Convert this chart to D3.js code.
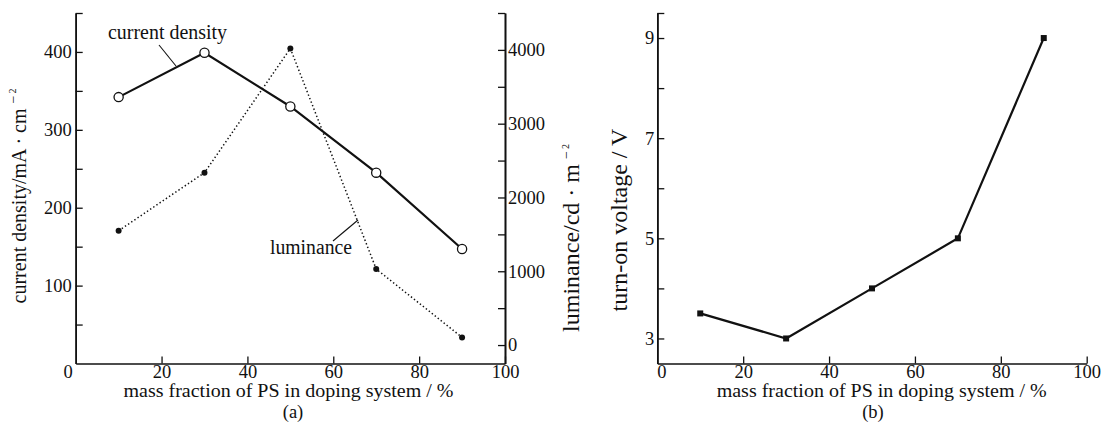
<!DOCTYPE html>
<html><head><meta charset="utf-8">
<script src="https://cdn.jsdelivr.net/npm/d3@7"></script>
<style>
body{margin:0;background:#fff;}
svg text{font-family:"Liberation Serif","Times New Roman",serif;fill:#111;}
</style></head>
<body><svg id="c" width="1101" height="438"></svg>
<script>
// ---- data ----
const massFraction = [10, 30, 50, 70, 90];
const currentDensity = [342, 399, 330, 245, 147];
const luminance = [1550, 2336, 4020, 1030, 104];
const turnOnVoltage = [3.5, 3.0, 4.0, 5.0, 9.0];
const xTicks = [0, 20, 40, 60, 80, 100];
const cdTicks = [100, 200, 300, 400];
const cdMinor = [50, 150, 250, 350, 450];
const lumTicks = [0, 1000, 2000, 3000, 4000];
const lumMinor = [500, 1500, 2500, 3500, 4500];
const voltTicks = [3, 5, 7, 9];
const voltMinor = [4, 6, 8, 9.5];

const svg = d3.select("#c");
const FS = 18.5;
const TK = 7;
const SERIF = '"Liberation Serif","Times New Roman",serif';
const fmt = d3.format("d");

// scales
const xA = d3.scaleLinear().domain([0, 100]).range([75.7, 505]);
const yCD = d3.scaleLinear().domain([0, 450]).range([363.5, 13]);
const yLum = d3.scaleLinear().domain([-250, 4500]).range([363.5, 13]);
const xB = d3.scaleLinear().domain([0, 100]).range([657.3, 1086.7]);
const yV = d3.scaleLinear().domain([2.5, 9.5]).range([363.5, 13]);

function styleAxis(g){
  g.attr("font-family", SERIF).attr("font-size", FS);
  g.selectAll("path.domain").attr("stroke","#111").attr("stroke-width",1.6);
  g.selectAll(".tick line").attr("stroke","#111").attr("stroke-width",1.3);
  g.selectAll("text").attr("fill","#111")
    .style("font-family", SERIF).style("font-size", FS+"px");
}

// rotated title centred on (x, yCenter); optional "−2" superscript
function rotTitle(g, x, yCenter, str, fs, sup){
  const grp = g.append("g");
  const t = grp.append("text").style("font-size", fs+"px").style("font-family", SERIF).text(str);
  const len = t.node().getComputedTextLength();
  let total = len;
  if (sup){
    const s = grp.append("text").style("font-family", SERIF);
    s.append("tspan").attr("x", len + 5).attr("y", -8).style("font-size","14px").text("−");
    s.append("tspan").attr("dx", 2).attr("y", -10).style("font-size","10px").text("2");
    total = len + 5 + s.node().getComputedTextLength() + 2;
  }
  grp.attr("transform",`translate(${x},${yCenter + total/2}) rotate(-90)`);
}

// ---------- panel (a) ----------
const gA = svg.append("g");
const xaxA = gA.append("g").attr("transform",`translate(0,${yCD(0)})`)
  .call(d3.axisBottom(xA).tickValues(xTicks).tickFormat(fmt).tickSizeInner(-TK).tickSizeOuter(0).tickPadding(1));
styleAxis(xaxA);
xaxA.selectAll(".tick").filter(d=>d===0).select("text").attr("dx",-8);
xaxA.selectAll(".tick").filter(d=>d===0).select("line").remove();

const yaxA = gA.append("g").attr("transform",`translate(${xA(0)},0)`)
  .call(d3.axisLeft(yCD).tickValues(cdTicks).tickFormat(fmt).tickSizeInner(-TK).tickSizeOuter(0).tickPadding(4));
styleAxis(yaxA);
const yaxAm = gA.append("g").attr("transform",`translate(${xA(0)},0)`)
  .call(d3.axisLeft(yCD).tickValues(cdMinor).tickSizeInner(-TK).tickSizeOuter(0).tickFormat(""));
styleAxis(yaxAm);

const yaxR = gA.append("g").attr("transform",`translate(${xA(100)},0)`)
  .call(d3.axisRight(yLum).tickValues(lumTicks).tickFormat(fmt).tickSizeInner(-TK).tickSizeOuter(0).tickPadding(3));
styleAxis(yaxR);
const yaxRm = gA.append("g").attr("transform",`translate(${xA(100)},0)`)
  .call(d3.axisRight(yLum).tickValues(lumMinor).tickSizeInner(-TK).tickSizeOuter(0).tickFormat(""));
styleAxis(yaxRm);

// luminance dotted
const lumPts = massFraction.map((x,i)=>[xA(x), yLum(luminance[i])]);
gA.append("path").attr("d", d3.line()(lumPts)).attr("fill","none")
  .attr("stroke","#111").attr("stroke-width",1.5).attr("stroke-dasharray","1.4,2.4");
gA.selectAll("circle.lum").data(lumPts).join("circle").attr("class","lum")
  .attr("cx",d=>d[0]).attr("cy",d=>d[1]).attr("r",3).attr("fill","#111");

// current density
const cdPts = massFraction.map((x,i)=>[xA(x), yCD(currentDensity[i])]);
gA.append("path").attr("d", d3.line()(cdPts)).attr("fill","none")
  .attr("stroke","#111").attr("stroke-width",2.2);
gA.selectAll("circle.cd").data(cdPts).join("circle").attr("class","cd")
  .attr("cx",d=>d[0]).attr("cy",d=>d[1]).attr("r",4.6).attr("fill","#fff")
  .attr("stroke","#111").attr("stroke-width",1.3);

// annotations
gA.append("text").attr("x",108).attr("y",39).style("font-size","20px")
  .attr("textLength",119).attr("lengthAdjust","spacingAndGlyphs").text("current density");
gA.append("line").attr("x1",159).attr("y1",45).attr("x2",176).attr("y2",66).attr("stroke","#111").attr("stroke-width",1.1);
gA.append("text").attr("x",270).attr("y",254).style("font-size","20px")
  .attr("textLength",82).attr("lengthAdjust","spacingAndGlyphs").text("luminance");
gA.append("line").attr("x1",333).attr("y1",241).attr("x2",358).attr("y2",220).attr("stroke","#111").attr("stroke-width",1.1);

// titles (a)
gA.append("text").attr("x",288.5).attr("y",397).attr("text-anchor","middle")
  .style("font-size","18.5px").attr("textLength",330).attr("lengthAdjust","spacingAndGlyphs")
  .text("mass fraction of PS in doping system / %");
gA.append("text").attr("x",293).attr("y",418).attr("text-anchor","middle").style("font-size","18.5px").text("(a)");

rotTitle(gA, 26, 196, "current density/mA · cm", 20, true);
rotTitle(gA, 579, 238, "luminance/cd · m", 24, true);

// ---------- panel (b) ----------
const gB = svg.append("g");
const xaxB = gB.append("g").attr("transform",`translate(0,${yV(2.5)})`)
  .call(d3.axisBottom(xB).tickValues(xTicks).tickFormat(fmt).tickSizeInner(-TK).tickSizeOuter(0).tickPadding(1));
styleAxis(xaxB);
xaxB.selectAll(".tick").filter(d=>d===0).select("text").attr("dx",4);
xaxB.selectAll(".tick").filter(d=>d===0).select("line").remove();
const yaxB = gB.append("g").attr("transform",`translate(${xB(0)},0)`)
  .call(d3.axisLeft(yV).tickValues(voltTicks).tickFormat(fmt).tickSizeInner(-TK).tickSizeOuter(0).tickPadding(3));
styleAxis(yaxB);
const yaxBm = gB.append("g").attr("transform",`translate(${xB(0)},0)`)
  .call(d3.axisLeft(yV).tickValues(voltMinor).tickSizeInner(-TK).tickSizeOuter(0).tickFormat(""));
styleAxis(yaxBm);

const vPts = massFraction.map((x,i)=>[xB(x), yV(turnOnVoltage[i])]);
gB.append("path").attr("d", d3.line()(vPts)).attr("fill","none")
  .attr("stroke","#111").attr("stroke-width",2.2);
gB.selectAll("rect.v").data(vPts).join("rect").attr("class","v")
  .attr("x",d=>d[0]-3).attr("y",d=>d[1]-3).attr("width",6).attr("height",6).attr("fill","#111");

gB.append("text").attr("x",881.7).attr("y",397).attr("text-anchor","middle")
  .style("font-size","18.5px").attr("textLength",330).attr("lengthAdjust","spacingAndGlyphs")
  .text("mass fraction of PS in doping system / %");
gB.append("text").attr("x",873).attr("y",418).attr("text-anchor","middle").style("font-size","18.5px").text("(b)");
rotTitle(gB, 627, 220, "turn-on voltage / V", 24, false);
</script></body></html>
